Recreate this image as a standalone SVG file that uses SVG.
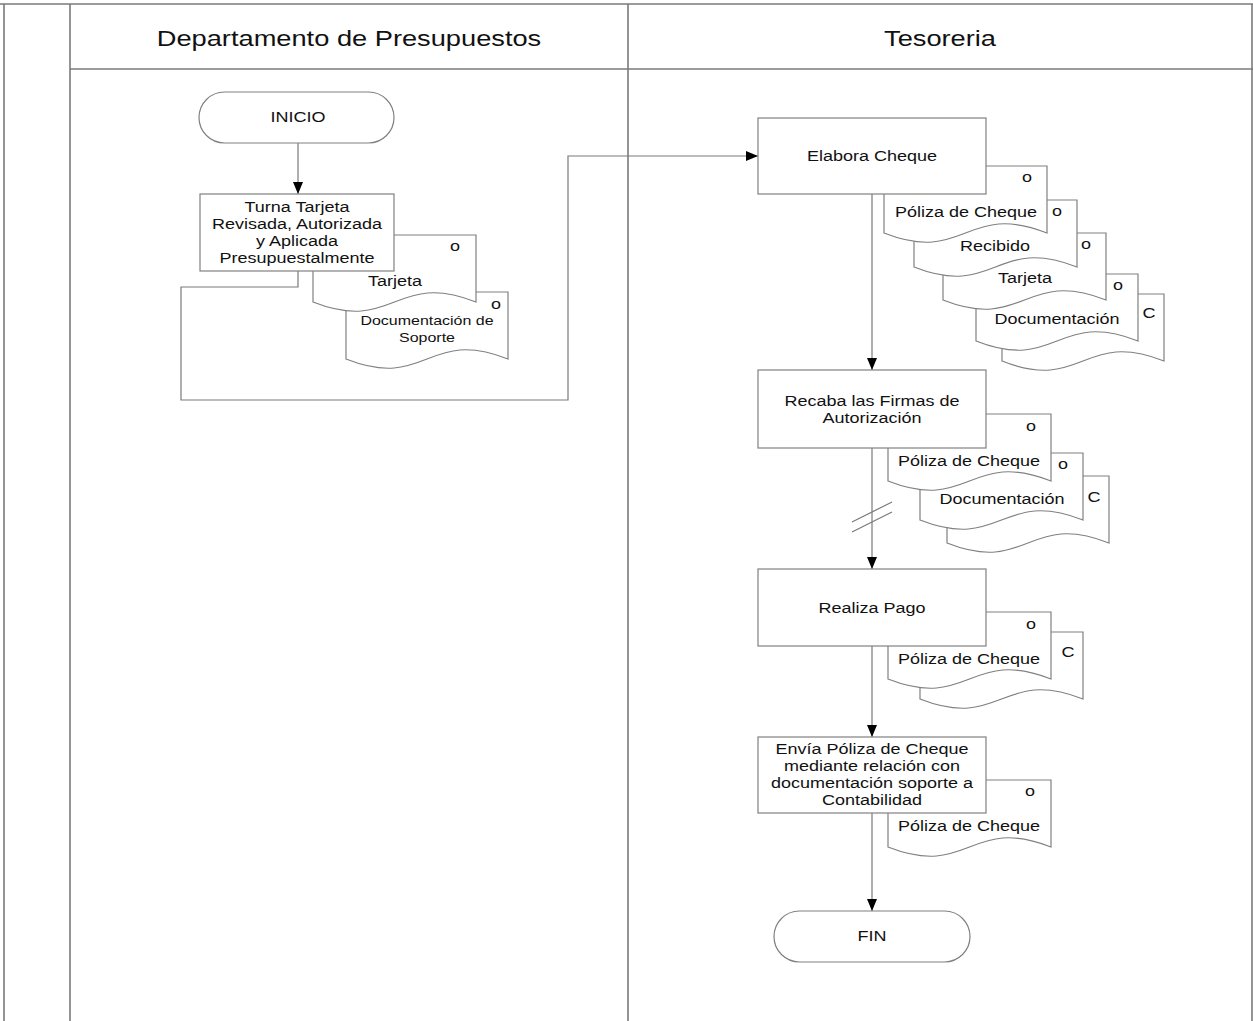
<svg xmlns="http://www.w3.org/2000/svg" width="1253" height="1021" viewBox="0 0 1253 1021">
<defs>
<style>
.frame{stroke:#7a7a7a;stroke-width:1.6;fill:none}
.shape{fill:#fff;stroke:#808080;stroke-width:1.2}
.conn{fill:none;stroke:#7a7a7a;stroke-width:1.2}
.t{font-family:"Liberation Sans",Arial,sans-serif;font-size:15px;fill:#111;text-anchor:middle}
.s{font-size:13.3px}
.h{font-size:22.7px}
</style>
<marker id="arr" markerUnits="userSpaceOnUse" markerWidth="12" markerHeight="10" refX="12" refY="5" orient="auto">
<path d="M0,0 L12,5 L0,10 Z" fill="#000"/>
</marker>
</defs>
<rect x="0" y="0" width="1253" height="1021" fill="#fff"/>
<g id="frame">
<line class="frame" x1="0" y1="4" x2="1253" y2="4" stroke-width="2.2"/>
<line class="frame" x1="4" y1="4" x2="4" y2="1021"/>
<line class="frame" x1="70" y1="4" x2="70" y2="1021"/>
<line class="frame" x1="628" y1="4" x2="628" y2="1021"/>
<line class="frame" x1="1252" y1="4" x2="1252" y2="1021"/>
<line class="frame" x1="70" y1="69" x2="1253" y2="69"/>
<text class="t h" transform="matrix(1.2 0 0 1 349 0)" x="0" y="46">Departamento de Presupuestos</text>
<text class="t h" transform="matrix(1.2 0 0 1 940 0)" x="0" y="46">Tesoreria</text>
</g>
<g id="connectors">
<path class="conn" d="M298 143 V194" marker-end="url(#arr)"/>
<path class="conn" d="M298 271 V287 H181 V400 H568 V156 H758" marker-end="url(#arr)"/>
<path class="conn" d="M872 194 V370" marker-end="url(#arr)"/>
<path class="conn" d="M872 448 V569" marker-end="url(#arr)"/>
<path class="conn" d="M852 522 L892 502 M852 532 L892 512"/>
<path class="conn" d="M872 646 V737" marker-end="url(#arr)"/>
<path class="conn" d="M872 813 V911" marker-end="url(#arr)"/>
</g>
<g id="inicio">
<rect class="shape" x="199" y="92" width="195" height="51" rx="25.5"/>
<text class="t" transform="matrix(1.2 0 0 1 298 0)" x="0" y="122">INICIO</text>
</g>
<g id="doc-soporte">
<path class="shape" d="M346 292 H508 V359 C427 327 427 391 346 359 Z"/>
<text class="t" transform="matrix(1.2 0 0 1 496 0)" x="0" y="309">o</text>
<text class="t s" transform="matrix(1.2 0 0 1 427 0)"><tspan x="0" y="325">Documentación de</tspan><tspan x="0" y="342">Soporte</tspan></text>
</g>
<g id="doc-tarjeta-1">
<path class="shape" d="M313 235 H476 V302 C394.5 270 394.5 334 313 302 Z"/>
<text class="t" transform="matrix(1.2 0 0 1 455 0)" x="0" y="251">o</text>
<text class="t" transform="matrix(1.2 0 0 1 395 0)" x="0" y="286">Tarjeta</text>
</g>
<g id="turna">
<rect class="shape" x="200" y="194" width="194" height="77"/>
<text class="t" transform="matrix(1.2 0 0 1 297 0)"><tspan x="0" y="212">Turna Tarjeta</tspan><tspan x="0" y="229">Revisada, Autorizada</tspan><tspan x="0" y="246">y Aplicada</tspan><tspan x="0" y="263">Presupuestalmente</tspan></text>
</g>
<g id="docs-elabora">
<path class="shape" d="M1002 294 H1164 V361 C1083 329 1083 393 1002 361 Z"/>
<text class="t" transform="matrix(1.2 0 0 1 1149 0)" x="0" y="318">C</text>
<path class="shape" d="M976 274 H1138 V341 C1057 309 1057 373 976 341 Z"/>
<text class="t" transform="matrix(1.2 0 0 1 1118 0)" x="0" y="290">o</text>
<text class="t" transform="matrix(1.2 0 0 1 1057 0)" x="0" y="324">Documentación</text>
<path class="shape" d="M943 233 H1106 V300 C1024.5 268 1024.5 332 943 300 Z"/>
<text class="t" transform="matrix(1.2 0 0 1 1086 0)" x="0" y="249">o</text>
<text class="t" transform="matrix(1.2 0 0 1 1025 0)" x="0" y="283">Tarjeta</text>
<path class="shape" d="M914 200 H1077 V267 C995.5 235 995.5 299 914 267 Z"/>
<text class="t" transform="matrix(1.2 0 0 1 1057 0)" x="0" y="216">o</text>
<text class="t" transform="matrix(1.2 0 0 1 995 0)" x="0" y="251">Recibido</text>
<path class="shape" d="M884 166 H1047 V233 C965.5 201 965.5 265 884 233 Z"/>
<text class="t" transform="matrix(1.2 0 0 1 1027 0)" x="0" y="182">o</text>
<text class="t" transform="matrix(1.2 0 0 1 966 0)" x="0" y="217">Póliza de Cheque</text>
</g>
<g id="elabora">
<rect class="shape" x="758" y="118" width="228" height="76"/>
<text class="t" transform="matrix(1.2 0 0 1 872 0)" x="0" y="161">Elabora Cheque</text>
</g>
<g id="docs-recaba">
<path class="shape" d="M947 476 H1109 V543 C1028 511 1028 575 947 543 Z"/>
<text class="t" transform="matrix(1.2 0 0 1 1094 0)" x="0" y="502">C</text>
<path class="shape" d="M920 453 H1083 V520 C1001.5 488 1001.5 552 920 520 Z"/>
<text class="t" transform="matrix(1.2 0 0 1 1063 0)" x="0" y="469">o</text>
<text class="t" transform="matrix(1.2 0 0 1 1002 0)" x="0" y="504">Documentación</text>
<path class="shape" d="M888 414 H1051 V481 C969.5 449 969.5 513 888 481 Z"/>
<text class="t" transform="matrix(1.2 0 0 1 1031 0)" x="0" y="431">o</text>
<text class="t" transform="matrix(1.2 0 0 1 969 0)" x="0" y="466">Póliza de Cheque</text>
</g>
<g id="recaba">
<rect class="shape" x="758" y="370" width="228" height="78"/>
<text class="t" transform="matrix(1.2 0 0 1 872 0)"><tspan x="0" y="406">Recaba las Firmas de</tspan><tspan x="0" y="423">Autorización</tspan></text>
</g>
<g id="docs-realiza">
<path class="shape" d="M920 632 H1083 V699 C1001.5 667 1001.5 731 920 699 Z"/>
<text class="t" transform="matrix(1.2 0 0 1 1068 0)" x="0" y="657">C</text>
<path class="shape" d="M888 612 H1051 V679 C969.5 647 969.5 711 888 679 Z"/>
<text class="t" transform="matrix(1.2 0 0 1 1031 0)" x="0" y="629">o</text>
<text class="t" transform="matrix(1.2 0 0 1 969 0)" x="0" y="664">Póliza de Cheque</text>
</g>
<g id="realiza">
<rect class="shape" x="758" y="569" width="228" height="77"/>
<text class="t" transform="matrix(1.2 0 0 1 872 0)" x="0" y="613">Realiza Pago</text>
</g>
<g id="docs-envia">
<path class="shape" d="M888 780 H1051 V847 C969.5 815 969.5 879 888 847 Z"/>
<text class="t" transform="matrix(1.2 0 0 1 1030 0)" x="0" y="796">o</text>
<text class="t" transform="matrix(1.2 0 0 1 969 0)" x="0" y="831">Póliza de Cheque</text>
</g>
<g id="envia">
<rect class="shape" x="758" y="737" width="228" height="76"/>
<text class="t" transform="matrix(1.2 0 0 1 872 0)"><tspan x="0" y="754">Envía Póliza de Cheque</tspan><tspan x="0" y="771">mediante relación con</tspan><tspan x="0" y="788">documentación soporte a</tspan><tspan x="0" y="805">Contabilidad</tspan></text>
</g>
<g id="fin">
<rect class="shape" x="774" y="911" width="196" height="51" rx="25.5"/>
<text class="t" transform="matrix(1.2 0 0 1 872 0)" x="0" y="941">FIN</text>
</g>
</svg>
